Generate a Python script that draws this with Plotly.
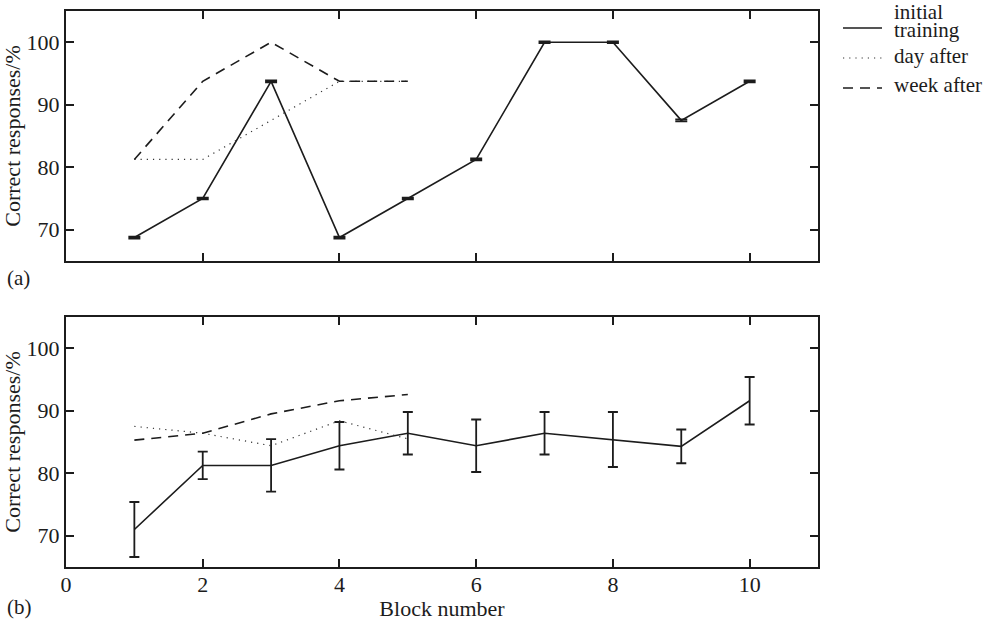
import plotly.graph_objects as go

blocks = [1, 2, 3, 4, 5, 6, 7, 8, 9, 10]
retest_blocks = [1, 2, 3, 4, 5]

# Panel (a)
a_initial = [68.75, 75, 93.75, 68.75, 75, 81.25, 100, 100, 87.5, 93.75]
a_initial_err = [0.15, 0.15, 0.15, 0.15, 0.15, 0.15, 0.15, 0.15, 0.15, 0.15]
a_day = [81.25, 81.25, 87.5, 93.75, 93.75]
a_week = [81.25, 93.75, 100, 93.75, 93.75]

# Panel (b)
b_initial = [71.0, 81.25, 81.25, 84.4, 86.4, 84.4, 86.4, 85.4, 84.3, 91.6]
b_initial_err = [4.4, 2.2, 4.2, 3.8, 3.4, 4.2, 3.4, 4.4, 2.7, 3.8]
b_day = [87.5, 86.4, 84.4, 88.4, 85.5]
b_week = [85.3, 86.4, 89.5, 91.6, 92.6]

x_ticks = [0, 2, 4, 6, 8, 10]
y_ticks = [70, 80, 90, 100]
legend_names = ["initial", "training", "day after", "week after"]

INK = "#1c1c1c"
FONT = "Liberation Serif"

W, H = 997, 624
ML, MR, MT, MB = 66, 179, 0, 57
PW, PH = W - ML - MR, H - MT - MB


def px(xr):
    return (xr - ML) / PW


def py(yr):
    return (H - MB - yr) / PH


fig = go.Figure()

SOLID = dict(color=INK, width=1.6)
DOTTED = dict(color="#333333", width=1.2, dash="1.2px,5px")
DASHED = dict(color=INK, width=1.6, dash="10px,7px")


def add_panel(xa, ya, init, err, day, week, cap):
    fig.add_trace(go.Scatter(
        x=blocks, y=init, mode="lines", name="initial training",
        line=SOLID,
        error_y=dict(type="data", array=err, visible=True, color=INK,
                     thickness=1.8, width=cap),
        xaxis=xa, yaxis=ya, showlegend=False))
    fig.add_trace(go.Scatter(
        x=retest_blocks, y=day, mode="lines", name="day after",
        line=DOTTED, xaxis=xa, yaxis=ya, showlegend=False))
    fig.add_trace(go.Scatter(
        x=retest_blocks, y=week, mode="lines", name="week after",
        line=DASHED, xaxis=xa, yaxis=ya, showlegend=False))


add_panel("x", "y", a_initial, a_initial_err, a_day, a_week, 6)
add_panel("x2", "y2", b_initial, b_initial_err, b_day, b_week, 5)

axis_common = dict(
    showline=True, linecolor=INK, linewidth=2.2, mirror="ticks",
    ticks="inside", ticklen=8, tickwidth=1.6, tickcolor=INK,
    showgrid=False, zeroline=False, automargin=False,
    tickfont=dict(family=FONT, size=22, color=INK),
)

fig.update_layout(
    width=W, height=H,
    margin=dict(l=ML, r=MR, t=MT, b=MB),
    paper_bgcolor="white", plot_bgcolor="white",
    font=dict(family=FONT, size=17, color=INK),
    showlegend=False,
    xaxis=dict(domain=[0, 1], range=[0, 11], tickvals=x_ticks,
               showticklabels=False, anchor="y", **axis_common),
    yaxis=dict(domain=[py(261), py(11)], range=[65, 105], tickvals=y_ticks,
               anchor="x",
               title=dict(text="Correct responses/%", standoff=1,
                          font=dict(family=FONT, size=22, color=INK)),
               **axis_common),
    xaxis2=dict(domain=[0, 1], range=[0, 11], tickvals=x_ticks,
                anchor="y2", ticklabelstandoff=-4,
                title=dict(text="Block number", standoff=0,
                           font=dict(family=FONT, size=22, color=INK)),
                **axis_common),
    yaxis2=dict(domain=[0, py(317)], range=[65, 105], tickvals=y_ticks,
                anchor="x2",
                title=dict(text="Correct responses/%", standoff=1,
                           font=dict(family=FONT, size=22, color=INK)),
                **axis_common),
)

# manual legend (samples + labels)
for yl, style in [(28, SOLID), (58, DOTTED), (88, DASHED)]:
    fig.add_shape(type="line", xref="paper", yref="paper",
                  x0=px(843), x1=px(882), y0=py(yl), y1=py(yl),
                  line=style)
for name, yt in zip(legend_names, [12, 30, 56, 85]):
    fig.add_annotation(text=name, xref="paper", yref="paper",
                       x=px(892), y=py(yt), showarrow=False,
                       xanchor="left", yanchor="middle",
                       font=dict(family=FONT, size=21, color=INK))

fig.add_annotation(text="(a)", xref="paper", yref="paper", x=px(5), y=py(278),
                   showarrow=False, xanchor="left", yanchor="middle",
                   font=dict(family=FONT, size=21, color=INK))
fig.add_annotation(text="(b)", xref="paper", yref="paper", x=px(5), y=py(607),
                   showarrow=False, xanchor="left", yanchor="middle",
                   font=dict(family=FONT, size=21, color=INK))

fig.write_html("out.html",
               config={"displayModeBar": False},
               post_script="document.body.style.margin='0';"
                           "document.body.style.overflow='hidden';")
